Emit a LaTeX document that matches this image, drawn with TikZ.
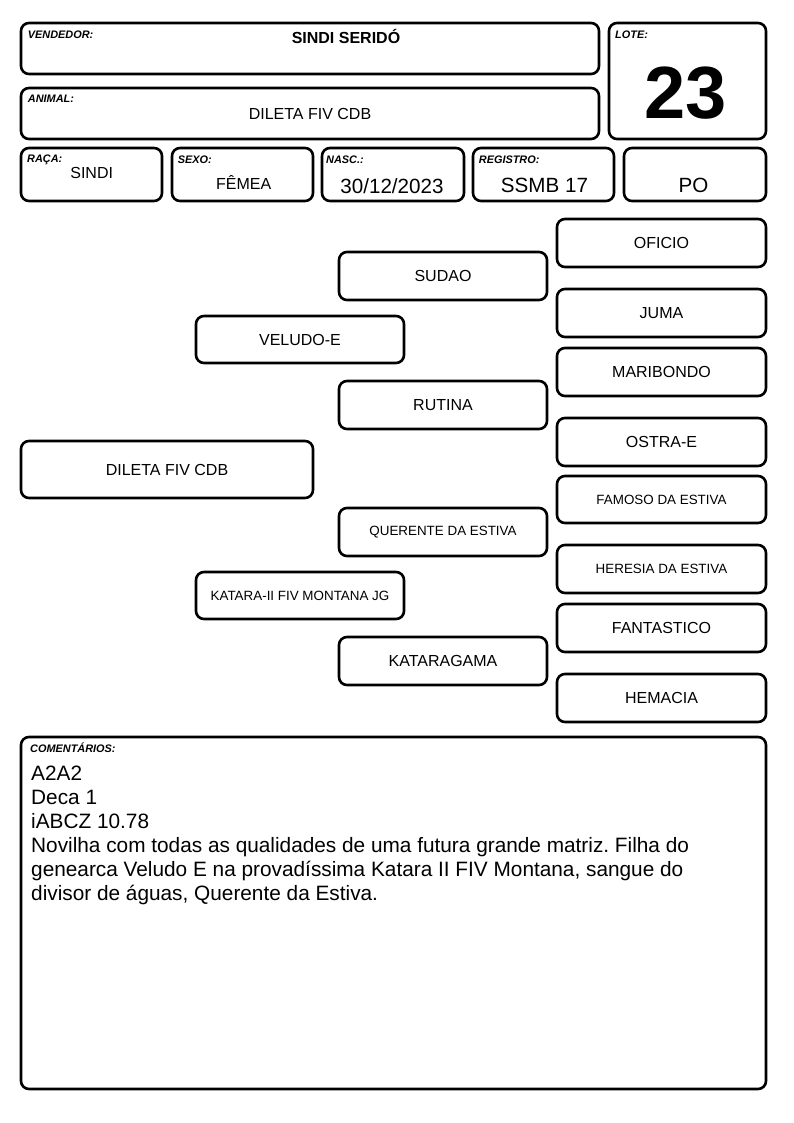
\documentclass[tikz,border=0pt]{standalone}
\usepackage{fontspec}
\setmainfont{Liberation Sans}
\newcommand{\psz}[1]{\fontsize{#1}{#1}\selectfont}
\frenchspacing

\begin{document}
\begin{tikzpicture}[x=1pt, y=-1pt,
   box/.style={draw, line width=2.6pt, rounded corners=8pt, inner sep=0pt, outer sep=0pt},
   pbox/.style={box, minimum width=208pt, minimum height=48pt, font=\psz{16}},
   psmall/.style={pbox, font=\psz{13.4}},
   tag/.style={anchor=base west, inner sep=0pt, font=\psz{10.9}\bfseries\itshape},
   val/.style={anchor=base, inner sep=0pt, font=\psz{16}},
   bigval/.style={anchor=base, inner sep=0pt, font=\psz{20.6}}]
 \fill[white] (0,0) rectangle (794,1123);
 \useasboundingbox (0,0) rectangle (794,1123);
 % header
 \node[box, minimum width=578pt, minimum height=51pt] (vend) at (310,48.5) {};
 \node[box, minimum width=578pt, minimum height=51pt] (animal) at (310,113.5) {};
 \node[box, minimum width=157pt, minimum height=116pt] (lote) at (687.5,81) {};
 \node[box, minimum width=141pt, minimum height=53pt] (raca) at (91.5,174.5) {};
 \node[box, minimum width=141pt, minimum height=53pt] (sexo) at (242.5,174.5) {};
 \node[box, minimum width=142pt, minimum height=53pt] (nasc) at (393,174.5) {};
 \node[box, minimum width=141pt, minimum height=53pt] (reg) at (543.5,174.5) {};
 \node[box, minimum width=142pt, minimum height=53pt] (po) at (695,174.5) {};
 \node[tag] (vendtag) at (27.7,39) {VENDEDOR:};
 \node[tag] (animaltag) at (27.7,102.3) {ANIMAL:};
 \node[tag] (lotetag) at (615,39) {LOTE:};
 \node[tag] (racatag) at (27,163) {RAÇA:};
 \node[tag] (sexotag) at (177.7,163.8) {SEXO:};
 \node[tag] (nasctag) at (326,163.8) {NASC.:};
 \node[tag] (regtag) at (478.7,164) {REGISTRO:};
 \node[val, font=\psz{16}\bfseries] (vendval) at (346,43.3) {SINDI SERIDÓ};
 \node[val] (animalval) at (310,119.3) {DILETA FIV CDB};
 \node[anchor=base, inner sep=0pt, font=\psz{74}\bfseries] (loteval) at (686,118.3) {23};
 \node[val] (racaval) at (91.7,178.3) {SINDI};
 \node[val] (sexoval) at (243.7,189.3) {FÊMEA};
 \node[bigval] (nascval) at (392,193.3) {30/12/2023};
 \node[bigval] (regval) at (544.5,192.7) {SSMB 17};
 \node[bigval] (poval) at (693.5,192.7) {PO};
 % pedigree
 \node[pbox, minimum width=292pt, minimum height=57pt] (animalp) at (167,469.5) {DILETA FIV CDB};
 \node[pbox, minimum height=47pt] (pai) at (300,339.5) {VELUDO-E};
 \node[psmall, minimum height=47pt] (mae) at (300,595.5) {KATARA-II FIV MONTANA JG};
 \node[pbox] (avo1) at (443,276) {SUDAO};
 \node[pbox] (avo2) at (443,405) {RUTINA};
 \node[psmall] (avo3) at (443,532) {QUERENTE DA ESTIVA};
 \node[pbox] (avo4) at (443,661) {KATARAGAMA};
 \node[pbox, minimum width=209pt] (bis1) at (661.5,243) {OFICIO};
 \node[pbox, minimum width=209pt] (bis2) at (661.5,313) {JUMA};
 \node[pbox, minimum width=209pt] (bis3) at (661.5,372) {MARIBONDO};
 \node[pbox, minimum width=209pt] (bis4) at (661.5,442) {OSTRA-E};
 \node[psmall, minimum width=209pt, minimum height=47pt] (bis5) at (661.5,499.5) {FAMOSO DA ESTIVA};
 \node[psmall, minimum width=209pt] (bis6) at (661.5,569) {HERESIA DA ESTIVA};
 \node[pbox, minimum width=209pt] (bis7) at (661.5,628) {FANTASTICO};
 \node[pbox, minimum width=209pt] (bis8) at (661.5,698) {HEMACIA};
 % comments
 \node[box, minimum width=745pt, minimum height=352pt] (coment) at (393.5,913) {};
 \node[tag] (comenttag) at (30,752.7) {COMENTÁRIOS:};
 \node[anchor=north west, inner sep=0pt, align=left, font=\fontsize{20.8}{24}\selectfont] (comenttext) at (31,765.8)
   {A2A2\\Deca 1\\iABCZ 10.78\\Novilha com todas as qualidades de uma futura grande matriz. Filha do\\genearca Veludo E na provadíssima Katara II FIV Montana, sangue do\\divisor de águas, Querente da Estiva.};
\end{tikzpicture}
\end{document}
